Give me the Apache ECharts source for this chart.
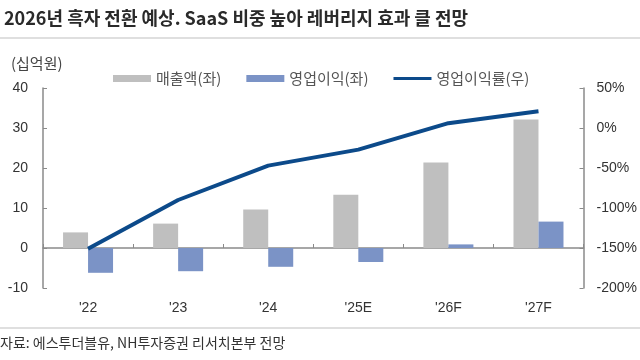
<!DOCTYPE html>
<html><head><meta charset="utf-8">
<script src="https://cdn.jsdelivr.net/npm/echarts@6/dist/echarts.min.js"></script>
<style>html,body{margin:0;padding:0;background:#fff}#c{width:640px;height:360px}</style>
</head><body><div id="c"></div>
<script>
const categories = ["'22", "'23", "'24", "'25E", "'26F", "'27F"];
const sales = [3.9, 6.1, 9.6, 13.3, 21.4, 32.1];
const opProfit = [-6.2, -5.8, -4.7, -3.5, 0.9, 6.6];
const opMargin = [-151, -90, -47, -27, 6, 21];
const leftTicks = { min: -10, max: 40, interval: 10 };
const rightTicks = { min: -200, max: 50, interval: 50 };
const titleText = '2026년 흑자 전환 예상. SaaS 비중 높아 레버리지 효과 클 전망';
const sourceText = '자료: 에스투더블유, NH투자증권 리서치본부 전망';
const unitText = '(십억원)';
const seriesNames = ['매출액(좌)', '영업이익(좌)', '영업이익률(우)'];

const KR = "'Noto Sans CJK KR', sans-serif";
const NUM = "'Liberation Sans Narrow', 'Liberation Sans', sans-serif";
const axisGray = '#8a8a8a';
const lineColor = '#0c4a8a';

const chart = echarts.init(document.getElementById('c'), null, { renderer: 'canvas' });
chart.setOption({
  animation: false,
  backgroundColor: '#fff',
  title: {
    text: titleText, left: -1, top: 4,
    textStyle: { fontFamily: KR, fontSize: 18, fontWeight: 'bold', color: '#2a2a2a' }
  },
  graphic: [
    { type: 'line', shape: { x1: 0, y1: 38, x2: 640, y2: 38 }, style: { stroke: '#d4d4d4', lineWidth: 1.5 } },
    { type: 'line', shape: { x1: 0, y1: 328, x2: 640, y2: 328 }, style: { stroke: '#d4d4d4', lineWidth: 1.5 } },
    { type: 'text', left: 11, top: 56, style: { text: unitText, font: "15px 'Noto Sans CJK KR'", fill: '#444' } },
    { type: 'text', left: 0, top: 336, style: { text: sourceText, font: "14px 'Noto Sans CJK KR'", fill: '#333' } }
  ],
  legend: {
    left: 108, top: 66, itemWidth: 38, itemHeight: 7, itemGap: 25,
    textStyle: { fontFamily: KR, fontSize: 15, color: '#555' },
    data: [
      { name: seriesNames[0], icon: 'rect' },
      { name: seriesNames[1], icon: 'rect' },
      { name: seriesNames[2], icon: 'path://M0 0H40V3H0Z', itemStyle: { color: lineColor } }
    ]
  },
  grid: { left: 43, right: 55, top: 88, bottom: 72 },
  xAxis: [
    {
      type: 'category', data: categories, position: 'bottom',
      axisLine: { show: false, onZero: false }, axisTick: { show: false },
      axisLabel: { margin: 13, fontFamily: NUM, fontSize: 14, color: '#333' }
    },
    {
      type: 'category', data: categories, position: 'bottom',
      axisLine: { show: true, onZero: true, onZeroAxisIndex: 0, lineStyle: { color: axisGray, width: 1.5 } },
      axisTick: { show: true, inside: true, length: 4, lineStyle: { color: axisGray } },
      axisLabel: { show: false }
    }
  ],
  yAxis: [
    {
      type: 'value', min: leftTicks.min, max: leftTicks.max, interval: leftTicks.interval,
      axisLine: { show: true, lineStyle: { color: axisGray, width: 1.5 } },
      axisTick: { show: true, inside: true, length: 4, lineStyle: { color: axisGray } },
      axisLabel: { margin: 15, fontFamily: NUM, fontSize: 14, color: '#333' },
      splitLine: { show: false }
    },
    {
      type: 'value', min: rightTicks.min, max: rightTicks.max, interval: rightTicks.interval,
      axisLine: { show: true, lineStyle: { color: axisGray, width: 1.5 } },
      axisTick: { show: true, inside: true, length: 4, lineStyle: { color: axisGray } },
      axisLabel: { margin: 13, fontFamily: NUM, fontSize: 14, color: '#333', formatter: '{value}%' },
      splitLine: { show: false }
    }
  ],
  series: [
    { name: seriesNames[0], type: 'bar', data: sales, xAxisIndex: 0, yAxisIndex: 0, barWidth: 25, barGap: '0%', itemStyle: { color: '#bfbfbf' } },
    { name: seriesNames[1], type: 'bar', data: opProfit, xAxisIndex: 0, yAxisIndex: 0, barWidth: 25, barGap: '0%', itemStyle: { color: '#7b93c6' } },
    { name: seriesNames[2], type: 'line', data: opMargin, xAxisIndex: 0, yAxisIndex: 1, symbol: 'none', z: 5, lineStyle: { color: lineColor, width: 4 }, itemStyle: { color: lineColor } }
  ]
});
</script></body></html>
